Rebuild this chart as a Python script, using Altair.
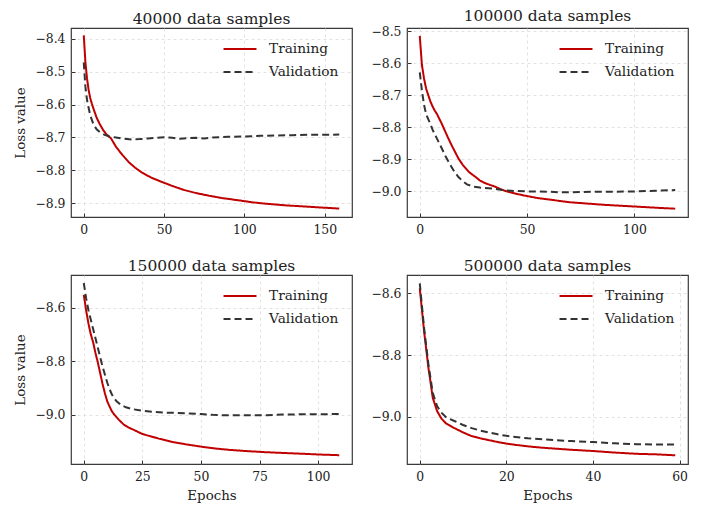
import altair as alt
import pandas as pd

FONT = "DejaVu Serif"
RED = "#c00000"
DARK = "#333333"

# ---- 40000 data samples ----
p1_train_ep = [0, 1, 2, 3, 4, 5, 6, 8, 10, 12, 14, 17, 20, 24, 28, 32, 36, 42, 48, 55, 62, 70, 78, 86, 95, 105, 115, 125, 135, 145, 152, 159]
p1_train = [-8.390, -8.470, -8.520, -8.555, -8.580, -8.597, -8.612, -8.640, -8.660, -8.677, -8.690, -8.703, -8.728, -8.753, -8.775, -8.792, -8.806, -8.822, -8.834, -8.847, -8.859, -8.869, -8.877, -8.884, -8.890, -8.897, -8.902, -8.906, -8.909, -8.912, -8.914, -8.916]
p1_val_ep = [0, 1, 2, 3, 4, 6, 8, 10, 13, 16, 20, 25, 30, 35, 40, 45, 50, 55, 60, 65, 70, 75, 80, 90, 100, 110, 120, 130, 140, 150, 159]
p1_val = [-8.472, -8.545, -8.585, -8.610, -8.632, -8.660, -8.675, -8.684, -8.692, -8.697, -8.700, -8.704, -8.706, -8.705, -8.703, -8.701, -8.699, -8.701, -8.704, -8.702, -8.701, -8.703, -8.700, -8.698, -8.697, -8.695, -8.694, -8.693, -8.692, -8.692, -8.691]

# ---- 100000 data samples ----
p2_train_ep = [0, 1, 2, 3, 4, 5, 6, 7, 8, 9, 10, 11, 13, 15, 18, 20, 23, 26, 28, 30, 32, 35, 38, 40, 44, 48, 55, 62, 70, 78, 86, 94, 102, 110, 119]
p2_train = [-8.514, -8.605, -8.648, -8.680, -8.700, -8.720, -8.735, -8.748, -8.758, -8.772, -8.785, -8.800, -8.830, -8.858, -8.897, -8.917, -8.940, -8.955, -8.966, -8.973, -8.978, -8.985, -8.994, -8.999, -9.006, -9.012, -9.021, -9.027, -9.034, -9.038, -9.042, -9.045, -9.048, -9.051, -9.054]
p2_val_ep = [0, 1, 2, 3, 4, 5, 6, 8, 10, 12, 14, 16, 18, 20, 22, 25, 28, 32, 36, 40, 45, 50, 55, 60, 65, 70, 75, 80, 90, 100, 110, 119]
p2_val = [-8.628, -8.685, -8.730, -8.760, -8.775, -8.790, -8.808, -8.835, -8.862, -8.890, -8.915, -8.937, -8.955, -8.968, -8.978, -8.985, -8.988, -8.990, -8.993, -8.997, -8.999, -9.000, -9.000, -9.001, -9.003, -9.003, -9.002, -9.001, -9.001, -9.000, -8.998, -8.996]

# ---- 150000 data samples ----
p3_train_ep = [0, 1, 2, 3, 4, 5, 6, 7, 8, 9, 10, 11, 12, 13, 15, 17, 19, 22, 25, 28, 32, 38, 44, 50, 56, 62, 70, 78, 86, 94, 102, 109]
p3_train = [-8.552, -8.610, -8.660, -8.700, -8.730, -8.770, -8.805, -8.845, -8.885, -8.920, -8.950, -8.970, -8.988, -9.000, -9.020, -9.037, -9.048, -9.060, -9.073, -9.080, -9.090, -9.103, -9.112, -9.120, -9.127, -9.132, -9.137, -9.141, -9.144, -9.147, -9.150, -9.152]
p3_val_ep = [0, 1, 2, 3, 4, 5, 6, 7, 8, 9, 10, 11, 12, 13, 14, 16, 18, 21, 25, 30, 35, 40, 45, 50, 55, 60, 65, 70, 78, 85, 93, 100, 109]
p3_val = [-8.508, -8.565, -8.610, -8.645, -8.680, -8.715, -8.750, -8.785, -8.820, -8.850, -8.880, -8.905, -8.925, -8.940, -8.950, -8.965, -8.973, -8.980, -8.986, -8.990, -8.993, -8.994, -8.996, -8.998, -9.001, -9.003, -9.003, -9.003, -9.003, -9.000, -8.999, -8.999, -8.998]

# ---- 500000 data samples ----
p4_train_ep = [0, 1, 2, 3, 4, 5, 6, 7, 8, 10, 12, 14, 16, 18, 20, 22, 25, 28, 30, 35, 40, 45, 50, 55, 59]
p4_train = [-8.584, -8.723, -8.841, -8.938, -8.981, -9.005, -9.020, -9.028, -9.036, -9.050, -9.062, -9.069, -9.075, -9.081, -9.086, -9.090, -9.095, -9.099, -9.101, -9.106, -9.110, -9.115, -9.119, -9.121, -9.124]
p4_val_ep = [0, 1, 2, 3, 4, 5, 6, 7, 8, 10, 12, 14, 16, 18, 20, 25, 30, 35, 40, 45, 50, 55, 59]
p4_val = [-8.568, -8.713, -8.830, -8.922, -8.965, -8.986, -9.000, -9.007, -9.013, -9.026, -9.036, -9.044, -9.050, -9.056, -9.061, -9.069, -9.074, -9.078, -9.081, -9.085, -9.088, -9.089, -9.089]

titles = ["40000 data samples", "100000 data samples", "150000 data samples", "500000 data samples"]
series_names = ["Training", "Validation"]


def make_panel(title, t_ep, t_val, v_ep, v_val, xdom, ydom, xticks, yticks, ytitle, xtitle):
    df = pd.DataFrame({
        "epoch": t_ep + v_ep,
        "loss": t_val + v_val,
        "series": [series_names[0]] * len(t_ep) + [series_names[1]] * len(v_ep),
    })
    xaxis = alt.Axis(values=xticks, format="d", title=xtitle, offset=-4, tickSize=4,
                     labelPadding=6, titlePadding=6)
    yaxis = alt.Axis(values=yticks, format=".1f", title=ytitle, offset=-4, tickSize=4,
                     labelPadding=6, titlePadding=7)
    return alt.Chart(df, title=title).mark_line(strokeWidth=2, clip=True).encode(
        x=alt.X("epoch:Q", scale=alt.Scale(domain=xdom, nice=False, zero=False), axis=xaxis),
        y=alt.Y("loss:Q", scale=alt.Scale(domain=ydom, nice=False, zero=False), axis=yaxis),
        color=alt.Color("series:N", title=None,
                        scale=alt.Scale(domain=series_names, range=[RED, DARK])),
        strokeDash=alt.StrokeDash("series:N", title=None,
                                  scale=alt.Scale(domain=series_names, range=[[1, 0], [7, 4]])),
        order=alt.Order("epoch:Q"),
    ).properties(width=281, height=189)


p1 = make_panel(titles[0], p1_train_ep, p1_train, p1_val_ep, p1_val,
                [-7.95, 166.95], [-8.9416, -8.3675], [0, 50, 100, 150],
                [-8.9, -8.8, -8.7, -8.6, -8.5, -8.4], "Loss value", None)
p2 = make_panel(titles[1], p2_train_ep, p2_train, p2_val_ep, p2_val,
                [-5.95, 124.95], [-9.080, -8.4895], [0, 50, 100],
                [-9.0, -8.9, -8.8, -8.7, -8.6, -8.5], None, None)
p3 = make_panel(titles[2], p3_train_ep, p3_train, p3_val_ep, p3_val,
                [-5.45, 114.45], [-9.185, -8.478], [0, 25, 50, 75, 100],
                [-9.0, -8.8, -8.6], "Loss value", "Epochs")
p4 = make_panel(titles[3], p4_train_ep, p4_train, p4_val_ep, p4_val,
                [-2.95, 61.95], [-9.152, -8.541], [0, 20, 40, 60],
                [-9.0, -8.8, -8.6], None, "Epochs")

chart = alt.concat(
    p1, p2, p3, p4, columns=2, spacing={"row": 58, "column": 55}, bounds="flush"
).resolve_scale(
    color="independent", strokeDash="independent"
).properties(
    padding={"left": 5, "top": 0, "right": 5, "bottom": 0}
).configure_view(
    stroke="#3a3a3a", strokeWidth=1.2
).configure_axis(
    labelFont=FONT, labelFontSize=12.4, labelColor="#222222",
    titleFont=FONT, titleFontSize=13.4, titleFontWeight="normal", titleColor="#222222",
    domain=False, tickColor="#333333", tickWidth=1,
    grid=True, gridColor="#dadada", gridDash=[3, 3], gridWidth=0.8,
).configure_title(
    font=FONT, fontSize=15.5, fontWeight="normal", color="#222222",
    offset=1, baseline="alphabetic", anchor="middle",
).configure_legend(
    orient="none", legendX=160, legendY=12, padding=0,
    labelFont=FONT, labelFontSize=13.7, labelColor="#222222",
    symbolType="M-2.06,0L2.06,0", symbolSize=256, symbolStrokeWidth=2,
    rowPadding=7, labelOffset=20,
)

chart.save("out.html", embed_options={"renderer": "svg", "actions": False})
